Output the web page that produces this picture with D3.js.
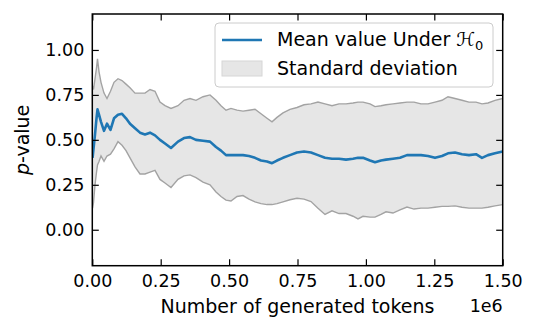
<!DOCTYPE html>
<html>
<head>
<meta charset="utf-8">
<script src="https://cdn.jsdelivr.net/npm/d3@7"></script>
<style>
  html, body { margin: 0; padding: 0; background: #fff; }
  svg { display: block; font-family: "DejaVu Sans", sans-serif; }
  .tick text { font-size: 17.5px; fill: #000; }
</style>
</head>
<body>
<script>
'use strict';

var width = 538,
    height = 332;

// number of generated tokens at each reading
var tokens = [
  1000, 4400, 9900, 15400, 19000, 24500, 31800, 42800, 53700, 66500,
  79300, 93900, 108600, 123200, 137800, 156100, 174300, 192600, 210900, 229200,
  247400, 265700, 287600, 313200, 335200, 357100, 379000, 404600, 430200, 452100,
  470400, 488700, 506900, 528900, 550800, 572700, 594700, 616600, 638500, 656800,
  675100, 697000, 722600, 748200, 773800, 799300, 824900, 850500, 876100, 901700,
  927300, 952900, 971100, 989400, 1015000, 1033300, 1055200, 1073500, 1099000, 1124600,
  1150200, 1175800, 1201400, 1227000, 1252600, 1278100, 1300100, 1325700, 1351200, 1376800,
  1402400, 1424300, 1446300, 1471900, 1500000
];

// mean p-value under H0
var meanP = [
  0.40, 0.45, 0.53, 0.62, 0.67, 0.64, 0.60, 0.55, 0.59, 0.555,
  0.62, 0.64, 0.645, 0.62, 0.59, 0.565, 0.54, 0.53, 0.54, 0.525,
  0.50, 0.48, 0.455, 0.49, 0.51, 0.515, 0.50, 0.495, 0.49, 0.46,
  0.44, 0.415, 0.415, 0.415, 0.415, 0.41, 0.40, 0.385, 0.38, 0.37,
  0.385, 0.40, 0.415, 0.43, 0.435, 0.43, 0.415, 0.40, 0.395, 0.395,
  0.39, 0.395, 0.40, 0.40, 0.385, 0.375, 0.385, 0.39, 0.395, 0.40,
  0.415, 0.415, 0.415, 0.41, 0.40, 0.41, 0.425, 0.43, 0.42, 0.415,
  0.42, 0.40, 0.415, 0.425, 0.435
];

// mean + standard deviation
var upperP = [
  0.80, 0.78, 0.84, 0.90, 0.95, 0.88, 0.82, 0.76, 0.73, 0.77,
  0.82, 0.84, 0.83, 0.81, 0.79, 0.76, 0.76, 0.76, 0.78, 0.77,
  0.71, 0.69, 0.675, 0.69, 0.72, 0.73, 0.72, 0.74, 0.75, 0.72,
  0.69, 0.665, 0.675, 0.665, 0.66, 0.665, 0.67, 0.645, 0.62, 0.60,
  0.625, 0.65, 0.67, 0.68, 0.695, 0.70, 0.71, 0.70, 0.69, 0.70,
  0.70, 0.705, 0.71, 0.71, 0.70, 0.685, 0.69, 0.695, 0.70, 0.705,
  0.71, 0.71, 0.70, 0.70, 0.71, 0.72, 0.74, 0.73, 0.72, 0.71,
  0.71, 0.70, 0.705, 0.72, 0.73
];

// mean - standard deviation
var lowerP = [
  0.12, 0.15, 0.25, 0.32, 0.36, 0.38, 0.41, 0.38, 0.41, 0.42,
  0.45, 0.49, 0.47, 0.44, 0.40, 0.35, 0.31, 0.31, 0.32, 0.33,
  0.28, 0.26, 0.235, 0.28, 0.30, 0.305, 0.29, 0.265, 0.25, 0.21,
  0.185, 0.165, 0.16, 0.185, 0.19, 0.17, 0.155, 0.145, 0.14, 0.14,
  0.145, 0.155, 0.167, 0.175, 0.17, 0.157, 0.12, 0.085, 0.105, 0.09,
  0.09, 0.075, 0.06, 0.075, 0.07, 0.07, 0.085, 0.10, 0.093, 0.11,
  0.126, 0.115, 0.12, 0.12, 0.125, 0.13, 0.13, 0.133, 0.125, 0.12,
  0.12, 0.12, 0.125, 0.133, 0.14
];

var xTicks = [0, 250000, 500000, 750000, 1000000, 1250000, 1500000];
var yTicks = [0, 0.25, 0.5, 0.75, 1.0];

var legendLabels = ["Mean value Under ", "Standard deviation"];

var margin = {left: 92.3, right: 538 - 502.7, top: 14, bottom: 332 - 265.7};
var plotW = width - margin.left - margin.right,
    plotH = height - margin.top - margin.bottom;

var rows = tokens.map(function(t, i) {
  return {x: t, m: meanP[i], hi: upperP[i], lo: lowerP[i]};
});

var x = d3.scaleLinear().domain([0, 1500000]).range([0, plotW]);
var y = d3.scaleLinear().domain([-0.2, 1.2]).range([plotH, 0]);

var svg = d3.select("body").append("svg")
  .attr("width", width)
  .attr("height", height);

svg.append("defs").append("clipPath")
  .attr("id", "plotclip")
  .append("rect")
  .attr("width", plotW)
  .attr("height", plotH);

var g = svg.append("g")
  .attr("transform", "translate(" + margin.left + "," + margin.top + ")");

var plot = g.append("g").attr("clip-path", "url(#plotclip)");

// std band
plot.append("path")
  .datum(rows)
  .attr("fill", "#e6e6e6")
  .attr("d", d3.area()
    .x(function(d) { return x(d.x); })
    .y0(function(d) { return y(d.lo); })
    .y1(function(d) { return y(d.hi); }));

// band edges
["hi", "lo"].forEach(function(k) {
  plot.append("path")
    .datum(rows)
    .attr("fill", "none")
    .attr("stroke", "#a3a3a3")
    .attr("stroke-width", 1.4)
    .attr("d", d3.line()
      .x(function(d) { return x(d.x); })
      .y(function(d) { return y(d[k]); }));
});

// mean line
plot.append("path")
  .datum(rows)
  .attr("fill", "none")
  .attr("stroke", "#1f77b4")
  .attr("stroke-width", 2.6)
  .attr("stroke-linejoin", "round")
  .attr("d", d3.line()
    .x(function(d) { return x(d.x); })
    .y(function(d) { return y(d.m); }));

// axes, ticks pointing inward on all four sides
var fmtX = function(d) { return d3.format(".2f")(d / 1e6); };

var axB = g.append("g")
  .attr("transform", "translate(0," + plotH + ")")
  .call(d3.axisBottom(x).tickValues(xTicks).tickFormat(fmtX)
    .tickSizeInner(-6.5).tickSizeOuter(0).tickPadding(8.6));

var axT = g.append("g")
  .call(d3.axisTop(x).tickValues(xTicks).tickFormat("")
    .tickSizeInner(-6.5).tickSizeOuter(0));

var axL = g.append("g")
  .call(d3.axisLeft(y).tickValues(yTicks).tickFormat(d3.format(".2f"))
    .tickSizeInner(-6.5).tickSizeOuter(0).tickPadding(8));

var axR = g.append("g")
  .attr("transform", "translate(" + plotW + ",0)")
  .call(d3.axisRight(y).tickValues(yTicks).tickFormat("")
    .tickSizeInner(-6.5).tickSizeOuter(0));

[axB, axT, axL, axR].forEach(function(a) {
  a.select(".domain").remove();
  a.selectAll(".tick line").attr("stroke", "#000").attr("stroke-width", 1.2);
  a.selectAll(".tick text").style("font-family", "DejaVu Sans");
});

// spines
g.append("rect")
  .attr("width", plotW)
  .attr("height", plotH)
  .attr("fill", "none")
  .attr("stroke", "#000")
  .attr("stroke-width", 1.5);

// axis labels
svg.append("text")
  .attr("x", margin.left + plotW / 2)
  .attr("y", 313.3)
  .attr("text-anchor", "middle")
  .style("font-size", "19px")
  .text("Number of generated tokens");

svg.append("text")
  .attr("x", 502.7)
  .attr("y", 312.3)
  .attr("text-anchor", "end")
  .style("font-size", "17.5px")
  .text("1e6");

var yl = svg.append("text")
  .attr("transform", "translate(29," + (margin.top + plotH / 2) + ") rotate(-90)")
  .attr("text-anchor", "middle")
  .style("font-size", "19px");
yl.append("tspan").style("font-style", "italic").text("p");
yl.append("tspan").text("-value");

// legend
var leg = svg.append("g");
leg.append("rect")
  .attr("x", 215).attr("y", 23)
  .attr("width", 278).attr("height", 64)
  .attr("rx", 4)
  .attr("fill", "#fff").attr("fill-opacity", 0.8)
  .attr("stroke", "#cccccc").attr("stroke-width", 1);

leg.append("line")
  .attr("x1", 222).attr("x2", 262)
  .attr("y1", 40).attr("y2", 40)
  .attr("stroke", "#1f77b4").attr("stroke-width", 2.6);

var t1 = leg.append("text")
  .attr("x", 277).attr("y", 46)
  .style("font-size", "19px")
  .text(legendLabels[0]);
t1.append("tspan").style("font-style", "italic").text("\u210B");
t1.append("tspan").attr("dy", 4).style("font-size", "13px").text("0");

leg.append("rect")
  .attr("x", 222).attr("y", 61)
  .attr("width", 40).attr("height", 15)
  .attr("fill", "#e6e6e6")
  .attr("stroke", "#d6d6d6").attr("stroke-width", 1);

leg.append("text")
  .attr("x", 277).attr("y", 75.3)
  .style("font-size", "19px")
  .text(legendLabels[1]);
</script>
</body>
</html>
